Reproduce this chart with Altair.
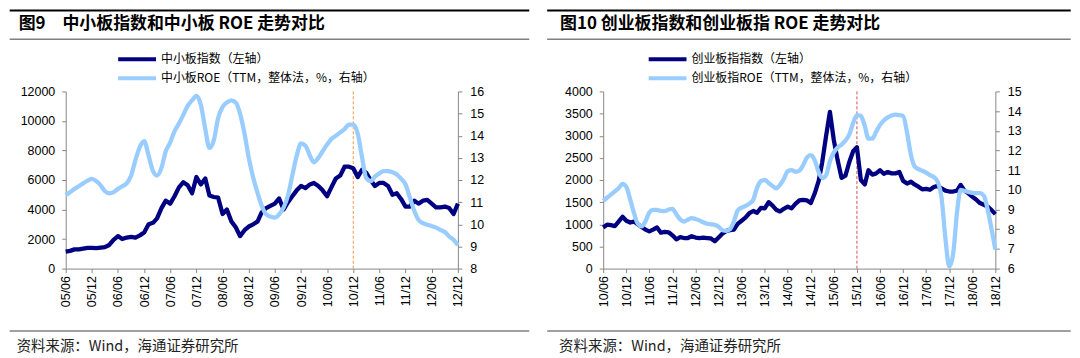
import altair as alt
import pandas as pd

# ---------------- data: panel 1 (SME board, monthly 2005/06 - 2012/12) ----------------
sme_start = "2005-06-01"
sme_index = [1150, 1200, 1300, 1300, 1350, 1400, 1400, 1380, 1420, 1450, 1600, 1950,
             2200, 2000, 2100, 2150, 2100, 2250, 2450, 3000, 3100, 3400, 4100, 4600,
             4400, 4900, 5500, 5850, 5650, 5100, 6200, 5700, 6100, 4950, 4850, 4800,
             3700, 4000, 3200, 2800, 2200, 2600, 2850, 3000, 3200, 3800, 4100, 4250,
             4400, 4750, 4000, 4500, 4900, 5300, 5600, 5450, 5700, 5800, 5600, 5300,
             4900, 5500, 6100, 6300, 6900, 6900, 6800, 6200, 6700, 6500, 6000, 5600,
             5800, 5800, 5600, 5000, 5100, 4700, 4200, 4200, 4600, 4400, 4600, 4650,
             4400, 4150, 4150, 4200, 4100, 3700, 4400]
sme_roe = [11.33, 11.45, 11.6, 11.72, 11.85, 11.97, 12.05, 11.95, 11.75, 11.5, 11.4, 11.45,
           11.6, 11.72, 11.85, 12.2, 12.9, 13.5, 13.75, 13.1, 12.4, 12.2, 12.55, 13.3,
           13.7, 14.2, 14.55, 14.95, 15.35, 15.6, 15.8, 15.4, 14.3, 13.45, 13.8, 14.8,
           15.3, 15.5, 15.6, 15.5, 15.0, 14.1, 13.0, 12.1, 11.4, 10.85, 10.45, 10.35,
           10.3, 10.45, 10.75, 11.3, 12.2, 13.1, 13.65, 13.55, 13.1, 12.8, 13.0, 13.3,
           13.6, 13.85, 14.0, 14.15, 14.3, 14.5, 14.5, 14.1, 13.0, 12.1, 11.95, 12.15,
           12.3, 12.4, 12.4, 12.35, 12.25, 12.05, 11.8, 11.2, 10.6, 10.2, 10.05, 9.98,
           9.92, 9.85, 9.75, 9.65, 9.45, 9.3, 9.05]
sme_ticks = ["05/06", "05/12", "06/06", "06/12", "07/06", "07/12", "08/06", "08/12",
             "09/06", "09/12", "10/06", "10/12", "11/06", "11/12", "12/06", "12/12"]
sme_left_ticks = [0, 2000, 4000, 6000, 8000, 10000, 12000]
sme_right_ticks = [8, 9, 10, 11, 12, 13, 14, 15, 16]
sme_marker = ["2010-12-01"]
sme_title = "图9\u3000中小板指数和中小板 ROE 走势对比"
sme_names = ["中小板指数（左轴）", "中小板ROE（TTM，整体法，%，右轴）"]

# ---------------- data: panel 2 (ChiNext, monthly 2010/06 - 2018/12) ----------------
gem_start = "2010-06-01"
gem_index = [930, 990, 980, 960, 1060, 1170, 1080, 1040, 1060, 1000, 940, 880,
             840, 880, 930, 810, 830, 820, 750, 660, 710, 690, 690, 730,
             700, 690, 700, 690, 680, 615, 700, 790, 850, 870, 880, 1010,
             1080, 1150, 1250, 1300, 1260, 1370, 1360, 1500, 1420, 1330, 1290, 1350,
             1400, 1360, 1460, 1540, 1550, 1540, 1480, 1700, 1980, 2400, 3000, 3540,
             2900, 2450, 2050, 2100, 2400, 2650, 2740, 2000, 1900, 2220, 2120, 2150,
             2220, 2140, 2180, 2150, 2150, 2180, 1980, 1920, 1960, 1900, 1850, 1790,
             1800, 1780, 1840, 1870, 1810, 1760, 1740, 1740, 1760, 1890, 1760, 1700,
             1625, 1560, 1480, 1440, 1400, 1320, 1230]
gem_roe = [9.44, 9.6, 9.76, 9.92, 10.08, 10.3, 10.15, 9.5, 8.8, 8.28, 8.15, 8.39,
           8.85, 8.98, 8.98, 8.93, 8.92, 9.0, 9.03, 8.76, 8.5, 8.39, 8.48, 8.56,
           8.52, 8.45, 8.35, 8.28, 8.25, 8.22, 8.12, 7.95, 7.92, 8.0, 8.4, 8.95,
           9.1, 9.18, 9.3, 9.5, 10.1, 10.45, 10.5, 10.35, 10.2, 10.08, 10.25, 10.55,
           10.95, 11.0, 10.92, 10.98, 11.25, 11.65, 11.76, 11.5, 10.9, 10.6, 10.75, 11.45,
           11.9, 12.15, 12.3, 12.5, 12.8, 13.4, 13.8, 13.75, 13.25, 12.6, 12.6, 12.95,
           13.3, 13.52, 13.68, 13.78, 13.82, 13.8, 13.75, 12.9, 11.76, 11.2, 11.05, 10.97,
           10.87, 10.75, 10.65, 10.4, 9.6, 7.5, 6.1, 6.75, 8.9, 10.0, 9.95, 9.9,
           9.85, 9.83, 9.83, 9.7, 9.0, 8.0, 6.96]
gem_ticks = ["10/06", "10/12", "11/06", "11/12", "12/06", "12/12", "13/06", "13/12",
             "14/06", "14/12", "15/06", "15/12", "16/06", "16/12", "17/06", "17/12",
             "18/06", "18/12"]
gem_left_ticks = [0, 500, 1000, 1500, 2000, 2500, 3000, 3500, 4000]
gem_right_ticks = [6, 7, 8, 9, 10, 11, 12, 13, 14, 15]
gem_marker = ["2015-12-01"]
gem_title = "图10 创业板指数和创业板指 ROE 走势对比"
gem_names = ["创业板指指数（左轴）", "创业板指ROE（TTM，整体法，%，右轴）"]

source_text = "资料来源：Wind，海通证券研究所"

NAVY = "#000080"
LIGHT = "#99ccff"
CJK = "Noto Sans CJK SC"
LATIN = "Liberation Sans"
W, H = 394, 178
ONE = pd.DataFrame({"k": [0]})


def tick_dt(lbl):
    yy, mm = lbl.split("/")
    return alt.DateTime(year=2000 + int(yy), month=int(mm), date=1)


def deco_text(text, x, y, size, weight="normal", color="#000000"):
    return alt.Chart(ONE).mark_text(
        align="left", baseline="middle", fontSize=size, fontWeight=weight,
        font=CJK, color=color
    ).encode(x=alt.value(x), y=alt.value(y), text=alt.value(text))


def deco_rule(x1, x2, y, color, width):
    return alt.Chart(ONE).mark_rule(color=color, strokeWidth=width).encode(
        x=alt.value(x1), x2=alt.value(x2), y=alt.value(y))


def panel(start, idx_vals, roe_vals, ticks, lticks, rticks, marker, marker_color,
          title, names, title_x, legend_x, footer_x, right_len):
    dates = pd.date_range(start, periods=len(idx_vals), freq="MS")
    df = pd.DataFrame({"date": dates, "idx": idx_vals, "roe": roe_vals})
    xenc = alt.X(
        "date:T",
        scale=alt.Scale(domain=[tick_dt(ticks[0]), tick_dt(ticks[-1])], nice=False),
        axis=alt.Axis(values=[tick_dt(t) for t in ticks], format="%y/%m",
                      labelAngle=-90, title=None, labelPadding=3),
    )
    vline = alt.Chart(pd.DataFrame({"date": pd.to_datetime(marker)})).mark_rule(
        color=marker_color, strokeDash=[3, 2], strokeWidth=1
    ).encode(x=xenc)
    idx_line = alt.Chart(df).mark_line(color=NAVY, strokeWidth=4.3, strokeJoin="round").encode(
        x=xenc,
        y=alt.Y("idx:Q", scale=alt.Scale(domain=[lticks[0], lticks[-1]], nice=False),
                axis=alt.Axis(orient="left", values=lticks, format="d", title=None,
                              labelPadding=7)),
    )
    roe_line = alt.Chart(df).mark_line(color=LIGHT, strokeWidth=4.3, interpolate="monotone",
                                       strokeJoin="round").encode(
        x=xenc,
        y=alt.Y("roe:Q", scale=alt.Scale(domain=[rticks[0], rticks[-1]], nice=False),
                axis=alt.Axis(orient="right", values=rticks, format="d", title=None,
                              labelPadding=8)),
    )
    deco = [
        deco_rule(-56.3, right_len, -81.3, "#000000", 2),
        deco_rule(-56.3, right_len, -52.3, "#808080", 1.5),
        deco_rule(-56.3, right_len, 240.7, "#808080", 1.5),
        deco_text(title, title_x, -67.8, 17, "bold"),
        deco_text(source_text, footer_x, 256.7, 14.5, color="#222222"),
        deco_rule(legend_x, legend_x + 38, -32.3, NAVY, 4),
        deco_rule(legend_x, legend_x + 38, -13.3, LIGHT, 4),
        deco_text(names[0], legend_x + 43, -32.3, 12),
        deco_text(names[1], legend_x + 43, -13.3, 12),
    ]
    return alt.layer(vline, idx_line, roe_line, *deco).resolve_scale(
        y="independent").properties(width=W, height=H)


left = panel(sme_start, sme_index, sme_roe, sme_ticks, sme_left_ticks, sme_right_ticks,
             sme_marker, "#f79646", sme_title, sme_names, -47.3, 52.7, -49.3, 465.7)
right = panel(gem_start, gem_index, gem_roe, gem_ticks, gem_left_ticks, gem_right_ticks,
              gem_marker, "#d05050", gem_title, gem_names, -43.3, 45.7, -44.3, 469.7)

chart = alt.hconcat(left, right, spacing=146, bounds="flush").properties(
    padding=0
).configure_view(stroke=None).configure_axis(
    domainColor="#868686", tickColor="#868686", labelColor="#000000",
    labelFont=LATIN, labelFontSize=12.5, grid=False, tickSize=4,
    domainWidth=1, tickWidth=1,
)

chart.save("out.html", embed_options={"renderer": "svg", "actions": False})
